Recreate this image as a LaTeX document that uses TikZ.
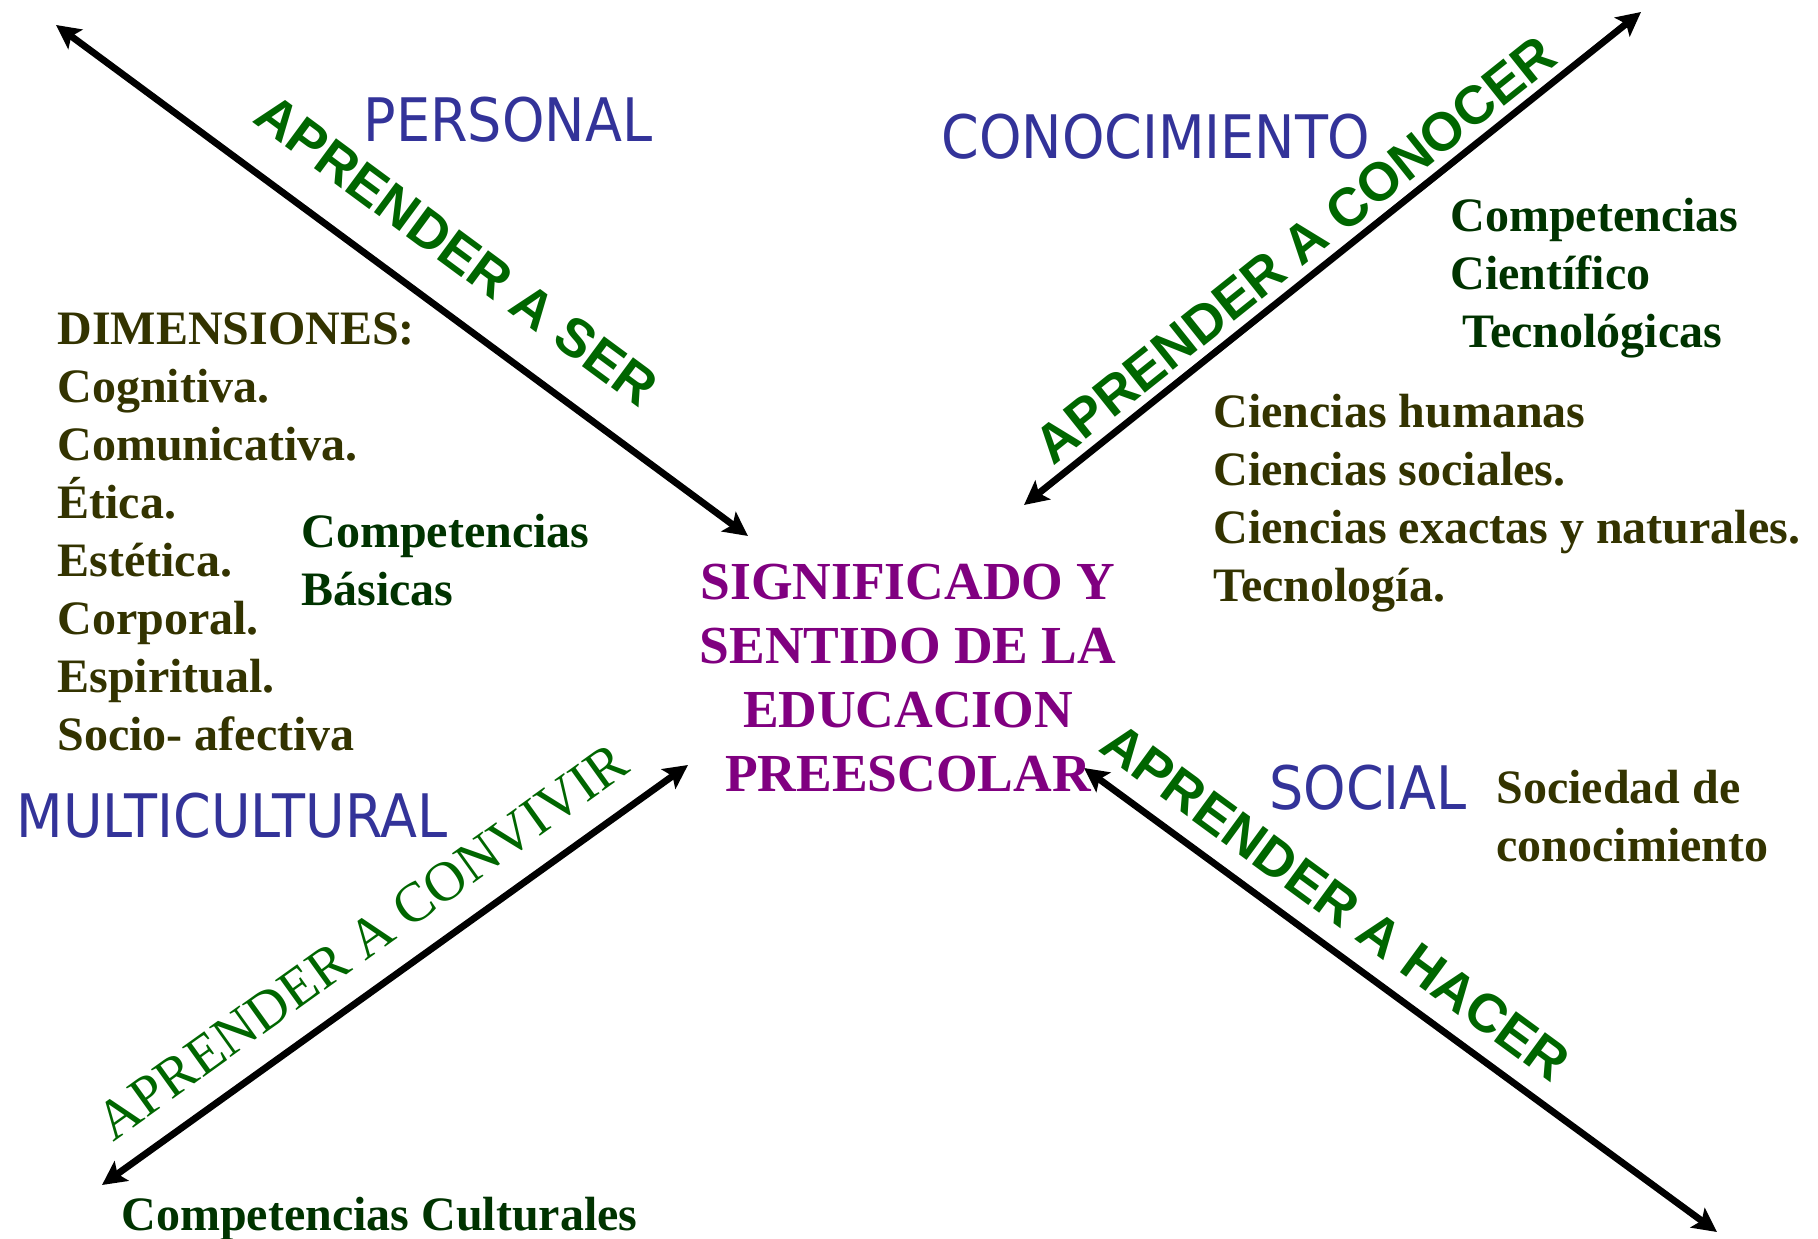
\documentclass[tikz,border=0pt]{standalone}
\usepackage{fontspec}
\setmainfont{Liberation Serif}
\newfontfamily\arialfont{Liberation Sans}
\newfontfamily\narrowfont{DejaVu Sans Condensed}
\usetikzlibrary{arrows.meta}
\definecolor{ejeazul}{RGB}{51,51,153}
\definecolor{oliva}{RGB}{51,51,0}
\definecolor{verdeosc}{RGB}{0,51,0}
\definecolor{verdelema}{RGB}{0,102,0}
\definecolor{morado}{RGB}{128,0,128}
\begin{document}
\begin{tikzpicture}[x=.5pt, y=.5pt, >={Stealth[length=12pt,width=12pt,inset=2.5pt]},
    flecha/.style={<->, line width=3.4pt},
    eje/.style={font=\narrowfont\fontsize{30pt}{36pt}\selectfont, text=ejeazul, inner sep=0pt, anchor=base},
    lema/.style={sloped, above=#1, inner sep=0pt, font=\arialfont\bfseries\fontsize{27pt}{30pt}\selectfont, text=verdelema},
    lista/.style={align=left, inner sep=0pt, anchor=north west, font=\bfseries\fontsize{24pt}{29pt}\selectfont}]
    \useasboundingbox (0,0) rectangle (1818,1238);
    % ends of the four arrows
    \coordinate (serA) at (56,1213);   \coordinate (serB) at (748,702);
    \coordinate (conA) at (1024,733);  \coordinate (conB) at (1641,1226);
    \coordinate (vivA) at (102,53);    \coordinate (vivB) at (688,473);
    \coordinate (hacA) at (1084,470);  \coordinate (hacB) at (1717,6);
    \draw[flecha](serA)--node[lema=17pt, pos=.53]{APRENDER A SER}(serB);
    \draw[flecha](conA)--node[lema=4pt, pos=.47]{APRENDER A CONOCER}(conB);
    \draw[flecha](vivA)--node[lema=12pt, pos=.49, font=\fontsize{28pt}{30pt}\selectfont]{APRENDER A CONVIVIR}(vivB);
    \draw[flecha](hacA)--node[lema=9pt, pos=.36]{APRENDER A HACER}(hacB);
    % centre
    \node[align=center, inner sep=0pt, text=morado, font=\bfseries\fontsize{26.75pt}{32pt}\selectfont] (centro) at (908,560)
        {SIGNIFICADO Y\\SENTIDO DE LA\\EDUCACION\\PREESCOLAR};
    % the four sides
    \node[eje] (personal) at (508,1096) {PERSONAL};
    \node[eje] (conocimiento) at (1156,1079) {CONOCIMIENTO};
    \node[eje] (multicultural) at (232,401) {MULTICULTURAL};
    \node[eje] (social) at (1368,429) {SOCIAL};
    \node[lista, text=oliva] (dimensiones) at (57,926)
        {DIMENSIONES:\\Cognitiva.\\Comunicativa.\\Ética.\\Estética.\\Corporal.\\Espiritual.\\Socio- afectiva};
    \node[lista, text=verdeosc] (basicas) at (301,724) {Competencias\\Básicas};
    \node[lista, text=verdeosc] (cientificas) at (1450,1040) {Competencias\\Científico\\\hspace*{6pt}Tecnológicas};
    \node[lista, text=oliva] (ciencias) at (1213,844)
        {Ciencias humanas\\Ciencias sociales.\\Ciencias exactas y naturales.\\Tecnología.};
    \node[lista, text=oliva] (sociedad) at (1496,468) {Sociedad de\\conocimiento};
    \node[lista, text=verdeosc] (culturales) at (121,41) {Competencias Culturales};
\end{tikzpicture}
\end{document}
